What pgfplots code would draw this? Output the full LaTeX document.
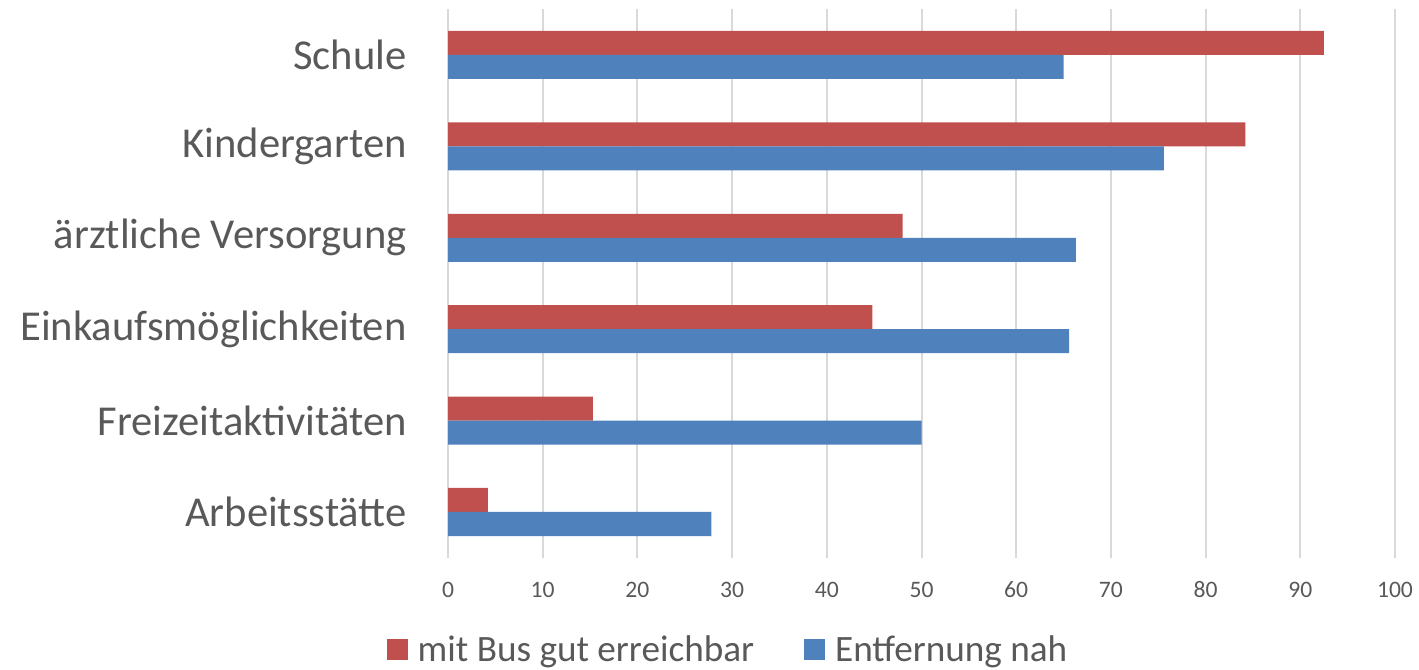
\documentclass[border=0pt]{standalone}
\usepackage{pgfplots}
\pgfplotsset{compat=1.18}
\usepackage{fontspec}
\setmainfont{Carlito}
\definecolor{txt}{HTML}{595959}
\definecolor{cred}{HTML}{C0504D}
\definecolor{cblue}{HTML}{4F81BD}
\definecolor{gridc}{HTML}{D9D9D9}
\begin{document}
\begin{tikzpicture}
\path[use as bounding box] (0,0) rectangle (709.5bp,335bp);
\begin{axis}[
  at={(224bp,56.15bp)}, anchor=south west,
  scale only axis, width=473.5bp, height=274.2bp,
  xmin=0, xmax=100, ymin=-0.5, ymax=5.5,
  xtick={0,10,...,100},
  ytick={0,1,2,3,4,5},
  yticklabels={Arbeitsstätte,Freizeitaktivitäten,Einkaufsmöglichkeiten,ärztliche Versorgung,Kindergarten,Schule},
  axis line style={draw=none},
  major tick length=0pt,
  xmajorgrids, grid style={gridc, line width=1bp},
  /pgf/number format/assume math mode=true,
  xticklabel style={font=\fontsize{11.8bp}{14bp}\selectfont, text=txt, anchor=center, yshift=-16bp, inner sep=0pt},
  yticklabel style={font=\fontsize{21.3bp}{25bp}\selectfont, text=txt, anchor=east, xshift=-20.5bp, inner sep=0pt},
  xbar, bar width=12bp,
  legend columns=2,
  legend style={at={(0.2946,-0.168)}, anchor=center, draw=none, fill=none,
    font=\fontsize{18.6bp}{22bp}\selectfont, text=txt,
    nodes={inner sep=0pt, anchor=west},
    /tikz/every even column/.append style={column sep=25bp}},
  legend image code/.code={\fill[#1] (0bp,-5bp) rectangle (10.5bp,5.5bp); \path (15.5bp,0);},
]
\addplot[fill=cred, draw=none, bar shift=6bp] coordinates {
  (4.2,0) (15.3,1) (44.8,2) (48.0,3) (84.2,4) (92.5,5)};
\addlegendentry{mit Bus gut erreichbar}
\addplot[fill=cblue, draw=none, bar shift=-6bp] coordinates {
  (27.8,0) (50.0,1) (65.6,2) (66.3,3) (75.6,4) (65.0,5)};
\addlegendentry{Entfernung nah}
\end{axis}
\end{tikzpicture}
\end{document}
